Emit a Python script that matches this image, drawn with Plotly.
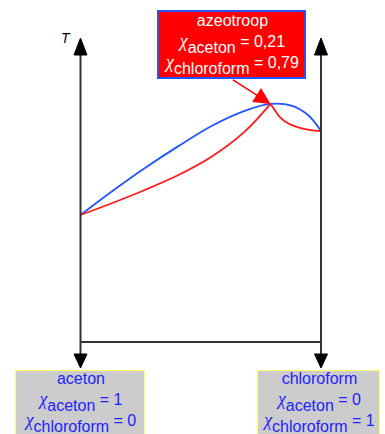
import plotly.graph_objects as go

# ---- data (x = mole fraction chloroform, T in arbitrary temperature units) ----
x_vapour = [0.0, 0.13, 0.268, 0.407, 0.545, 0.683, 0.79, 0.877, 0.946, 1.0]
T_vapour = [56.2, 57.6, 59.0, 60.3, 61.5, 62.4, 62.81, 62.71, 62.15, 61.2]

x_liquid_left = [0.0, 0.13, 0.268, 0.407, 0.545, 0.683, 0.79]
T_liquid_left = [56.2, 56.90, 57.69, 58.58, 59.67, 61.16, 62.81]
x_liquid_right = [0.79, 0.809, 0.829, 0.854, 0.887, 0.929, 0.966, 1.0]
T_liquid_right = [62.81, 62.42, 62.03, 61.74, 61.50, 61.33, 61.24, 61.2]

azeo_x = 0.79
azeo_T = 62.81

W, H = 385, 434
# pixel geometry of the drawing (decoration only)
X0_PX, PX_PER_X = 80.5, 240.5
T0, T0_PY, PY_PER_T = 56.2, 215.0, 16.8


def px2x(px):
    return (px - X0_PX) / PX_PER_X


def py2t(py):
    return T0 + (T0_PY - py) / PY_PER_T


fig = go.Figure()
fig.add_trace(go.Scatter(x=x_vapour, y=T_vapour, mode="lines",
                         line=dict(color="#2255ff", width=1.8, shape="spline", smoothing=1.0),
                         hoverinfo="skip", showlegend=False))
fig.add_trace(go.Scatter(x=x_liquid_left, y=T_liquid_left, mode="lines",
                         line=dict(color="#ff1a1a", width=1.8, shape="spline", smoothing=1.0),
                         hoverinfo="skip", showlegend=False))
fig.add_trace(go.Scatter(x=x_liquid_right, y=T_liquid_right, mode="lines",
                         line=dict(color="#ff1a1a", width=1.8, shape="spline", smoothing=0.8),
                         hoverinfo="skip", showlegend=False))

axis_col = "#333333"
shapes = []
y_top_base = py2t(55)
y_top_tip = py2t(38)
y_bottom = py2t(342)
y_down_base = py2t(354)
y_down_tip = py2t(368)
hw = 6.5 / PX_PER_X
for xa in (0.0, 1.0):
    shapes.append(dict(type="line", x0=xa, x1=xa, y0=y_bottom, y1=y_top_base,
                       line=dict(color=axis_col, width=2)))
    shapes.append(dict(type="path",
                       path=f"M {xa-hw},{y_top_base} L {xa},{y_top_tip} L {xa+hw},{y_top_base} Z",
                       fillcolor="black", line=dict(color="black", width=1)))
    shapes.append(dict(type="line", x0=xa, x1=xa, y0=y_bottom, y1=y_down_base,
                       line=dict(color=axis_col, width=2)))
    shapes.append(dict(type="path",
                       path=f"M {xa-hw},{y_down_base} L {xa},{y_down_tip} L {xa+hw},{y_down_base} Z",
                       fillcolor="black", line=dict(color="black", width=1)))
shapes.append(dict(type="line", x0=0.0, x1=1.0, y0=y_bottom, y1=y_bottom,
                   line=dict(color=axis_col, width=2)))

FONT = "Liberation Sans, Arial, sans-serif"


def chi(sub, value):
    return ("<i><span style='font-family:Liberation Serif;font-size:18px'>χ</span></i>"
            f"<sub><sub><span style='font-size:16px'>{sub}</span></sub></sub>"
            f" = {value}")


annotations = []
annotations.append(dict(x=px2x(66), y=py2t(38), xref="x", yref="y", text="<i>T</i>",
                        showarrow=False, font=dict(family=FONT, size=14, color="black"),
                        xanchor="center", yanchor="middle"))

azeo_text = "azeotroop<br>" + chi("aceton", "0,21") + "<br>" + chi("chloroform", "0,79")
annotations.append(dict(x=231.5 / W, y=1 - 10 / H, xref="paper", yref="paper",
                        text=azeo_text, showarrow=False, xanchor="center", yanchor="top",
                        font=dict(family=FONT, size=16, color="white"),
                        bgcolor="#ff0000", bordercolor="#2255ff", borderwidth=2,
                        borderpad=0, width=145, height=65, align="center"))
annotations.append(dict(x=azeo_x, y=azeo_T, xref="x", yref="y", ax=-39, ay=-25,
                        axref="pixel", ayref="pixel", showarrow=True, text="",
                        arrowhead=2, arrowsize=2.2, arrowwidth=1.5, arrowcolor="#ff0000",
                        standoff=0))

left_text = "aceton<br>" + chi("aceton", "1") + "<br>" + chi("chloroform", "0")
right_text = "chloroform<br>" + chi("aceton", "0") + "<br>" + chi("chloroform", "1")
annotations.append(dict(x=80 / W, y=1 - 370 / H, xref="paper", yref="paper",
                        text=left_text, showarrow=False, xanchor="center", yanchor="top",
                        font=dict(family=FONT, size=16, color="#2222ff"),
                        bgcolor="#cccccc", bordercolor="#ffff66", borderwidth=1,
                        borderpad=0, width=128, height=63, align="center"))
annotations.append(dict(x=318.5 / W, y=1 - 370 / H, xref="paper", yref="paper",
                        text=right_text, showarrow=False, xanchor="center", yanchor="top",
                        font=dict(family=FONT, size=16, color="#2222ff"),
                        bgcolor="#cccccc", bordercolor="#ffff66", borderwidth=1,
                        borderpad=0, width=121, height=63, align="center"))

fig.update_layout(
    width=W, height=H, margin=dict(l=0, r=0, t=0, b=0),
    paper_bgcolor="white", plot_bgcolor="white",
    xaxis=dict(range=[px2x(0), px2x(W)], visible=False, fixedrange=True),
    yaxis=dict(range=[py2t(H), py2t(0)], visible=False, fixedrange=True),
    shapes=shapes, annotations=annotations, showlegend=False,
)

fig.write_html("out.html", config={"displayModeBar": False},
               post_script="document.body.style.margin='0';document.body.style.overflow='hidden';")
